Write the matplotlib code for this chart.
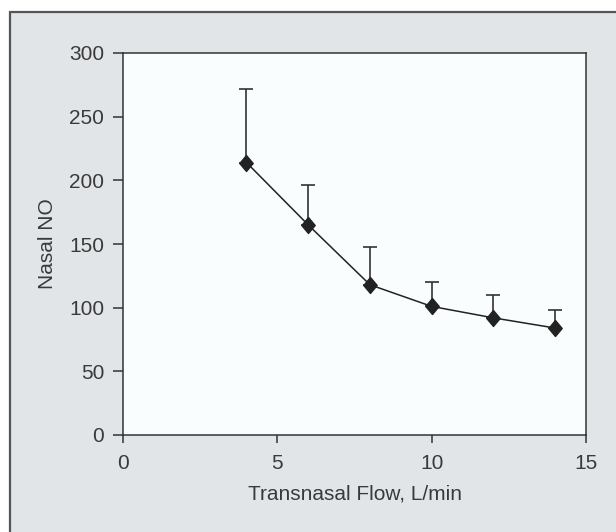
import matplotlib
matplotlib.use("Agg")
import matplotlib.pyplot as plt
from matplotlib.patches import Rectangle

flow = [4, 6, 8, 10, 12, 14]
nasal_no = [214, 165, 118, 101, 92, 84]
upper_err = [272, 196, 148, 120, 110, 98]
x_ticks = [0, 5, 10, 15]
y_ticks = [0, 50, 100, 150, 200, 250, 300]

plt.rcParams['font.family'] = ['Liberation Sans', 'DejaVu Sans']
txt = '#3a3a3a'
bg = '#e2e5e8'

fig = plt.figure(figsize=(6.16, 5.32), dpi=100)
fig.patch.set_facecolor('white')
panel = Rectangle((10/616, -0.1), 1.2, 1 - 12/532 + 0.1, transform=fig.transFigure,
                  facecolor=bg, edgecolor='#555555', linewidth=1.6, zorder=-10)
fig.patches.append(panel)

ax = fig.add_axes([123/616, 1 - 435/532, (586 - 123)/616, (435 - 53)/532])
ax.set_facecolor('#fafdfd')

yerr = [[0]*len(nasal_no), [u - m for u, m in zip(upper_err, nasal_no)]]
ax.errorbar(flow, nasal_no, yerr=yerr, fmt='none', ecolor='#333333',
            elinewidth=1.2, capsize=5, capthick=1.2, zorder=2)
diamond = [(0, 0.5), (0.42, 0), (0, -0.5), (-0.42, 0), (0, 0.5)]
ax.plot(flow, nasal_no, color='#222222', linewidth=1.1, marker=diamond,
        markersize=11.5, markerfacecolor='#222222', markeredgecolor='#222222', zorder=3)

ax.set_xlim(0, 15)
ax.set_ylim(0, 300)
ax.set_xticks(x_ticks)
ax.set_yticks(y_ticks)
for s in ax.spines.values():
    s.set_color('#333333')
    s.set_linewidth(1.1)
ax.tick_params(direction='out', width=1.1, colors='#333333',
               labelcolor=txt, labelsize=15)
ax.tick_params(axis='x', length=6, pad=7.5)
ax.tick_params(axis='y', length=7.5, pad=6)
ax.set_xlabel('Transnasal Flow, L/min', fontsize=15, color=txt, labelpad=8.5)
ax.set_ylabel('Nasal NO', fontsize=15, color=txt, labelpad=8.5)

fig.savefig('out.png', dpi=100, facecolor=fig.get_facecolor())
